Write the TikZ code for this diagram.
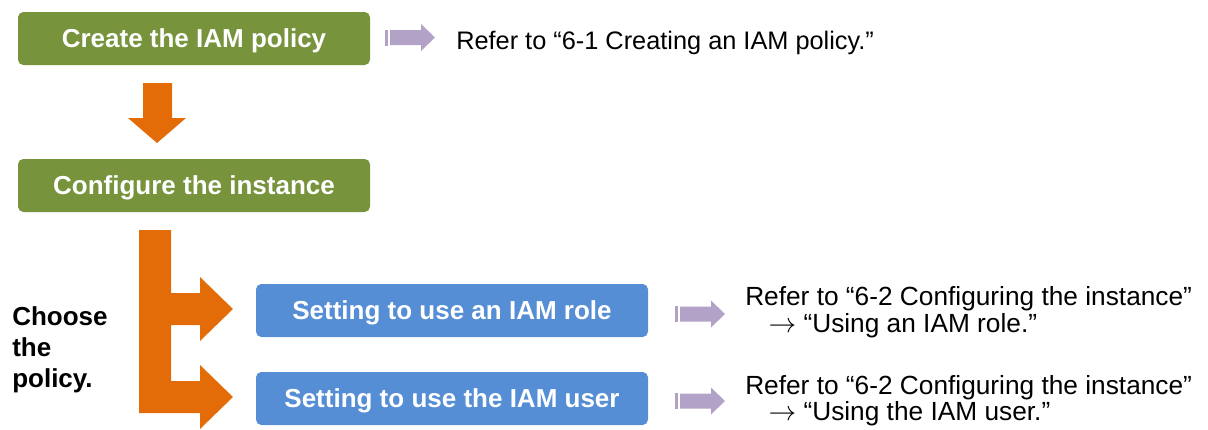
\documentclass[tikz,border=0pt]{standalone}
\usepackage{fontspec}
\setmainfont{Liberation Sans}
\usetikzlibrary{positioning, calc}
\definecolor{stepgreen}{HTML}{77933C}
\definecolor{optblue}{HTML}{558ED5}
\definecolor{flowor}{HTML}{E36C09}
\definecolor{refpurple}{HTML}{B3A2C7}
\tikzset{
  stepbox/.style={fill=stepgreen, rounded corners=4pt, minimum height=39.75pt, minimum width=264pt, text=white, text height=14pt, text depth=0pt, font=\fontsize{19.5}{23}\selectfont\bfseries},
  optbox/.style={stepbox, fill=optblue, minimum width=294pt},
  reftext/.style={anchor=base west, align=left, inner sep=0pt, font=\fontsize{19}{19.5}\selectfont},
  x=0.75pt, y=-0.75pt,
}
% small purple block arrow pointing right, drawn at a coordinate
\newcommand{\refarrow}[1]{%
  \fill[refpurple] ($(#1)+(0,-8)$) rectangle ($(#1)+(2.5,8)$);
  \fill[refpurple] ($(#1)+(5,-7.5)$) -- ($(#1)+(36,-7.5)$) -- ($(#1)+(36,-13.5)$)
    -- ($(#1)+(50,0)$) -- ($(#1)+(36,13.5)$) -- ($(#1)+(36,7.5)$) -- ($(#1)+(5,7.5)$) -- cycle;
}

\begin{document}
\begin{tikzpicture}
  \useasboundingbox (0,0) rectangle (1208,429);
  \node[stepbox] (policy) at (194,38.5) {Create the IAM policy};
  \node[stepbox] (instance) at (194,185.5) {Configure the instance};
  \node[optbox] (role) at (452,310.5) {Setting to use an IAM role};
  \node[optbox] (user) at (452,398.5) {Setting to use the IAM user};
  \node[anchor=base west, align=left, inner sep=0pt, font=\fontsize{19.5}{23.25}\selectfont\bfseries] (choose) at (12,387) {Choose\\the\\policy.};

  \node[reftext] (ref1) at (456,49) {Refer to “6-1 Creating an IAM policy.”};
  \node[reftext, font=\fontsize{19.7}{20.25}\selectfont] (ref2) at (745,332) {Refer to “6-2 Configuring the instance”\\\hspace{17.5pt}$\rightarrow$ “Using an IAM role.”};
  \node[reftext, font=\fontsize{19.7}{19.5}\selectfont] (ref3) at (745,420) {Refer to “6-2 Configuring the instance”\\\hspace{17.5pt}$\rightarrow$ “Using the IAM user.”};

  \coordinate (a1) at (385,37.5);
  \coordinate (a2) at (675,314);
  \coordinate (a3) at (675,401);
  \refarrow{a1}
  \refarrow{a2}
  \refarrow{a3}

  % orange arrow between the two steps
  \fill[flowor] (143,83) -- (172,83) -- (172,118) -- (186,118) -- (157,143)
    -- (128,118) -- (143,118) -- cycle;

  % orange branch to the two options
  \fill[flowor] (139,230) -- (171,230) -- (171,293) -- (200,293) -- (200,277)
    -- (233,309) -- (200,341) -- (200,325) -- (171,325) -- (171,381) -- (200,381)
    -- (200,365) -- (233,397) -- (200,429) -- (200,413) -- (139,413) -- cycle;
\end{tikzpicture}
\end{document}
